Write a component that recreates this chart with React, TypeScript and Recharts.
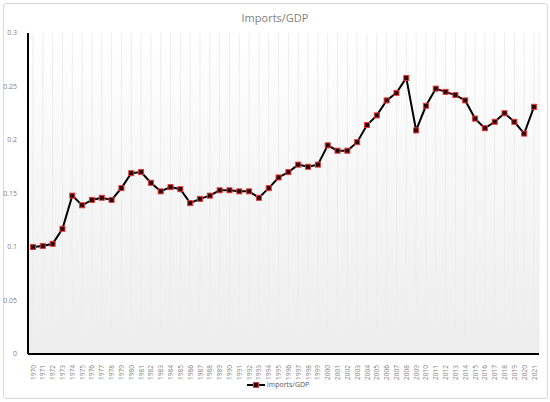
import { LineChart, Line, XAxis, YAxis, CartesianGrid, Legend } from 'recharts'

const years = [
  '1970', '1971', '1972', '1973', '1974', '1975', '1976', '1977', '1978', '1979',
  '1980', '1981', '1982', '1983', '1984', '1985', '1986', '1987', '1988', '1989',
  '1990', '1991', '1992', '1993', '1994', '1995', '1996', '1997', '1998', '1999',
  '2000', '2001', '2002', '2003', '2004', '2005', '2006', '2007', '2008', '2009',
  '2010', '2011', '2012', '2013', '2014', '2015', '2016', '2017', '2018', '2019',
  '2020', '2021',
]

const importsGdp = [
  0.1, 0.101, 0.103, 0.117, 0.148, 0.139, 0.144, 0.146, 0.144, 0.155,
  0.169, 0.17, 0.16, 0.152, 0.156, 0.154, 0.141, 0.145, 0.148, 0.153,
  0.153, 0.152, 0.152, 0.146, 0.155, 0.165, 0.17, 0.177, 0.175, 0.177,
  0.195, 0.19, 0.19, 0.198, 0.214, 0.223, 0.237, 0.244, 0.258, 0.209,
  0.232, 0.248, 0.245, 0.242, 0.237, 0.22, 0.211, 0.217, 0.225, 0.217,
  0.206, 0.231,
]

const yTicks = [0, 0.05, 0.1, 0.15, 0.2, 0.25, 0.3]

const data = years.map((year, i) => ({ year, value: importsGdp[i] }))

const SquareDot = (props: any) => {
  const { cx, cy, index } = props
  if (cx == null || cy == null) return null
  return (
    <rect
      key={`dot-${index}`}
      x={cx - 2.5}
      y={cy - 2.5}
      width={5}
      height={5}
      fill="#2a0000"
      stroke="#e23b3b"
      strokeWidth={1}
    />
  )
}

const YearTick = (props: any) => {
  const { x, y, payload } = props
  return (
    <text
      x={x}
      y={y + 3}
      transform={`rotate(-90 ${x} ${y + 3})`}
      textAnchor="end"
      dominantBaseline="central"
      fontSize={6.5}
      fill="#7f7f7f"
    >
      {payload.value}
    </text>
  )
}

const LegendContent = () => (
  <div style={{ display: 'flex', justifyContent: 'center', alignItems: 'center', fontSize: 7, color: '#595959' }}>
    <svg width={18} height={8}>
      <line x1={0} y1={4} x2={18} y2={4} stroke="#000" strokeWidth={2} />
      <rect x={6.5} y={1.5} width={5} height={5} fill="#2a0000" stroke="#e23b3b" strokeWidth={1} />
    </svg>
    <span style={{ marginLeft: 2 }}>Imports/GDP</span>
  </div>
)

export default function App() {
  return (
    <div
      style={{
        position: 'absolute',
        left: 0,
        top: 0,
        width: 550,
        height: 402,
        background: '#fff',
        fontFamily: '"Open Sans", sans-serif',
      }}
    >
      <div
        style={{
          position: 'absolute',
          left: 3,
          top: 3,
          width: 543,
          height: 394,
          border: '1px solid #d9d9d9',
          borderRadius: 3,
        }}
      />
      <div
        style={{
          position: 'absolute',
          top: 10,
          width: 550,
          textAlign: 'center',
          fontSize: 11,
          fontWeight: 400,
          color: '#7f7f7f',
        }}
      >
        Imports/GDP
      </div>
      <div style={{ position: 'absolute', left: 0, top: 0 }}>
        <LineChart width={550} height={402} data={data} margin={{ top: 33, right: 11, left: 0, bottom: 0 }}>
          <defs>
            <linearGradient id="plotBg" x1="0" y1="0" x2="0" y2="1">
              <stop offset="0%" stopColor="#ffffff" />
              <stop offset="100%" stopColor="#ededed" />
            </linearGradient>
          </defs>
          <CartesianGrid horizontal={false} stroke="#ededed" fill="url(#plotBg)" />
          <XAxis
            dataKey="year"
            interval={0}
            padding={{ left: 5, right: 5 }}
            tick={<YearTick />}
            tickLine={false}
            axisLine={{ stroke: '#000', strokeWidth: 2 }}
            height={28}
          />
          <XAxis
            xAxisId="top"
            dataKey="year"
            orientation="top"
            tick={false}
            tickLine={false}
            axisLine={{ stroke: '#000', strokeWidth: 2 }}
            height={0}
          />
          <YAxis
            domain={[0, 0.3]}
            ticks={yTicks}
            tickLine={false}
            axisLine={{ stroke: '#000', strokeWidth: 2 }}
            tick={{ fontSize: 7, fill: '#7f7f7f' }}
            tickMargin={5}
            width={28}
          />
          <YAxis
            yAxisId="right"
            orientation="right"
            domain={[0, 0.3]}
            tick={false}
            tickLine={false}
            axisLine={{ stroke: '#000', strokeWidth: 2 }}
            width={0}
          />
          <Line
            dataKey="value"
            name="Imports/GDP"
            stroke="#000"
            strokeWidth={2}
            dot={<SquareDot />}
            activeDot={false}
            isAnimationActive={false}
          />
          <Legend
            verticalAlign="bottom"
            height={20}
            content={<LegendContent />}
            wrapperStyle={{ top: 380, left: 0, width: 556 }}
          />
        </LineChart>
      </div>
    </div>
  )
}
